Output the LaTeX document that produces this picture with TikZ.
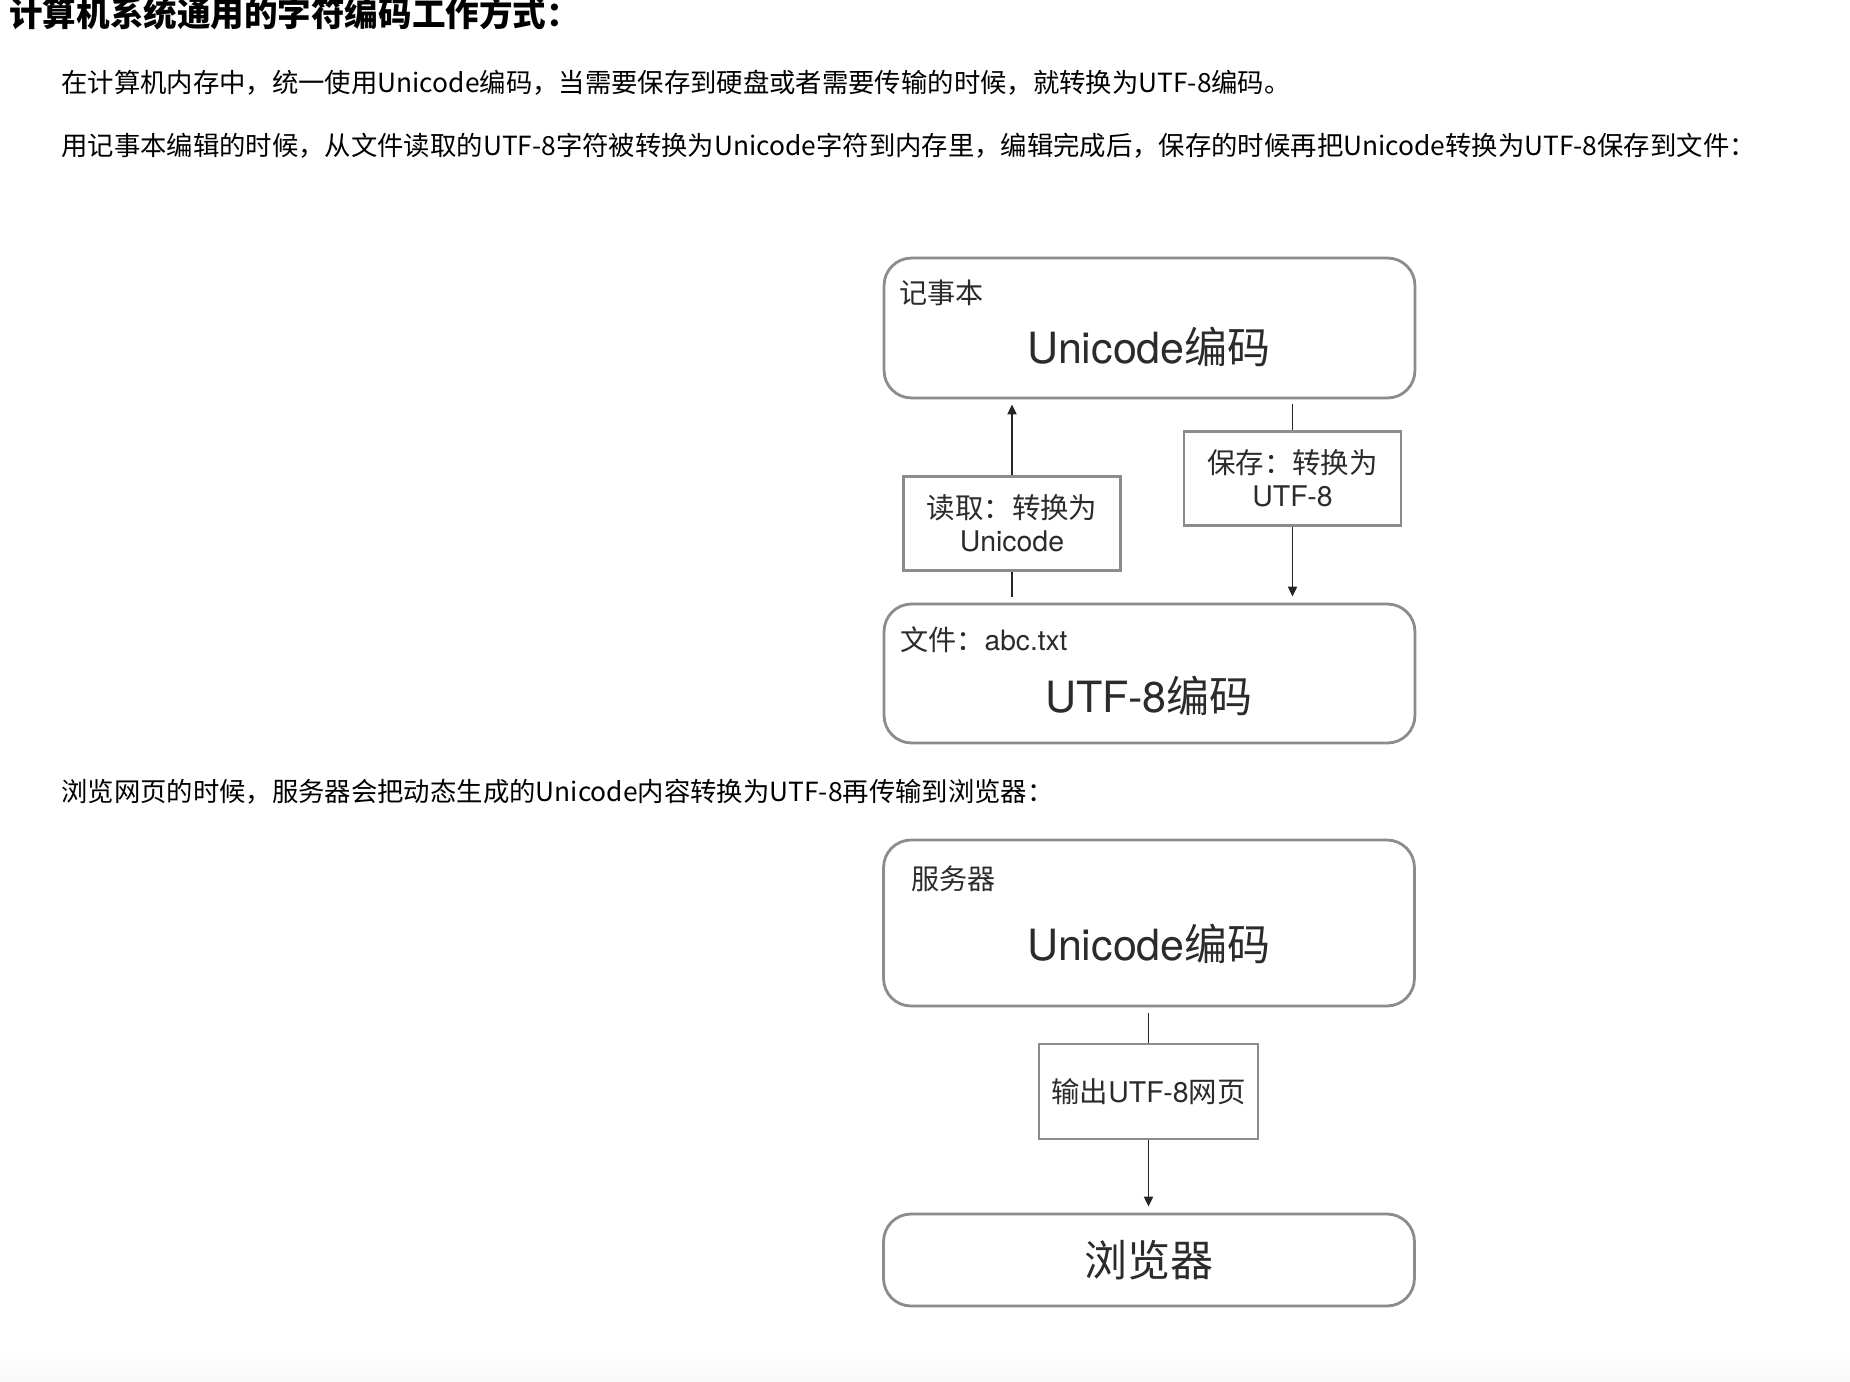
\documentclass[tikz,border=0pt]{standalone}
\usepackage{fontspec}
\setmainfont{Noto Sans CJK SC}
\newfontfamily\hv{TeX Gyre Heros}
\usetikzlibrary{arrows.meta, positioning}
\definecolor{boxgray}{HTML}{8C8C8C}
\definecolor{inkgray}{HTML}{2B2B2B}

\begin{document}
\begin{tikzpicture}[x=0.02cm, y=0.02cm,
    bigbox/.style={draw=boxgray, line width=1.6pt, rounded corners=0.55cm, minimum width=10.62cm, inner sep=0},
    midbox/.style={draw=boxgray, line width=1.5pt, rectangle, minimum width=4.34cm, minimum height=1.88cm, align=center, font=\fontsize{16.2}{19}\selectfont, text=inkgray},
    para/.style={anchor=west, inner sep=0, font=\fontsize{15}{18}\selectfont},
    tag/.style={anchor=west, inner sep=0, font=\fontsize{16}{19}\selectfont, text=inkgray},
    big/.style={inner sep=0, font=\fontsize{24.5}{28}\selectfont, text=inkgray},
    link/.style={line width=1.1pt, black!85},
    arrow/.style={link, -{Triangle[length=0.2cm, width=0.18cm]}}
]
\useasboundingbox (0,0) rectangle (1850,-1382);
\shade[top color=white, bottom color=black!3] (0,-1350) rectangle (1850,-1382);

% Text
\node[para, font=\bfseries\fontsize{19.1}{22}\selectfont] (title) at (9,-14) {计算机系统通用的字符编码工作方式：};
\node[para] (line1) at (61,-83) {在计算机内存中，统一使用Unicode编码，当需要保存到硬盘或者需要传输的时候，就转换为UTF-8编码。};
\node[para] (line2) at (61,-146) {用记事本编辑的时候，从文件读取的UTF-8字符被转换为Unicode字符到内存里，编辑完成后，保存的时候再把Unicode转换为UTF-8保存到文件：};
\node[para] (line3) at (61,-792) {浏览网页的时候，服务器会把动态生成的Unicode内容转换为UTF-8再传输到浏览器：};

% Notepad and file
\node[bigbox, minimum height=2.8cm] (note) at (1149.5,-328) {};
\node[tag] (notetag) at (899,-293) {记事本};
\node[big] (notecode) at (1149,-347) {{\hv Unicode}编码};
\node[bigbox, minimum height=2.78cm] (file) at (1149.5,-673.5) {};
\node[tag] (filetag) at (900,-640) {文件：{\hv abc.txt}};
\node[big] (filecode) at (1149,-696) {{\hv UTF-8}编码};
\node[midbox] (read) at (1012,-523.5) {读取：转换为\\{\hv Unicode}};
\node[midbox] (save) at (1292.5,-478.5) {保存：转换为\\{\hv UTF-8}};

\draw[link, shorten <=0.12cm] (read.south |- file.north) -- (read.south);
\draw[arrow, shorten >=0.1cm] (read.north) -- (read.north |- note.south);
\draw[link, shorten <=0.1cm] (note.south -| save.north) -- (save.north);
\draw[arrow, shorten >=0.12cm] (save.south) -- (save.south |- file.north);

% Server and browser
\node[bigbox, minimum height=3.32cm] (server) at (1149,-923) {};
\node[tag] (servertag) at (911,-879) {服务器};
\node[big] (servercode) at (1149,-944) {{\hv Unicode}编码};
\node[midbox, minimum width=4.38cm, minimum height=1.9cm] (page) at (1148.5,-1091.5) {输出{\hv UTF-8}网页};
\node[bigbox, big, minimum height=1.84cm] (browser) at (1149,-1260) {浏览器};

\draw[link, shorten <=0.12cm] (server.south -| page.north) -- (page.north);
\draw[arrow, shorten >=0.12cm] (page.south) -- (page.south |- browser.north);

\end{tikzpicture}
\end{document}
